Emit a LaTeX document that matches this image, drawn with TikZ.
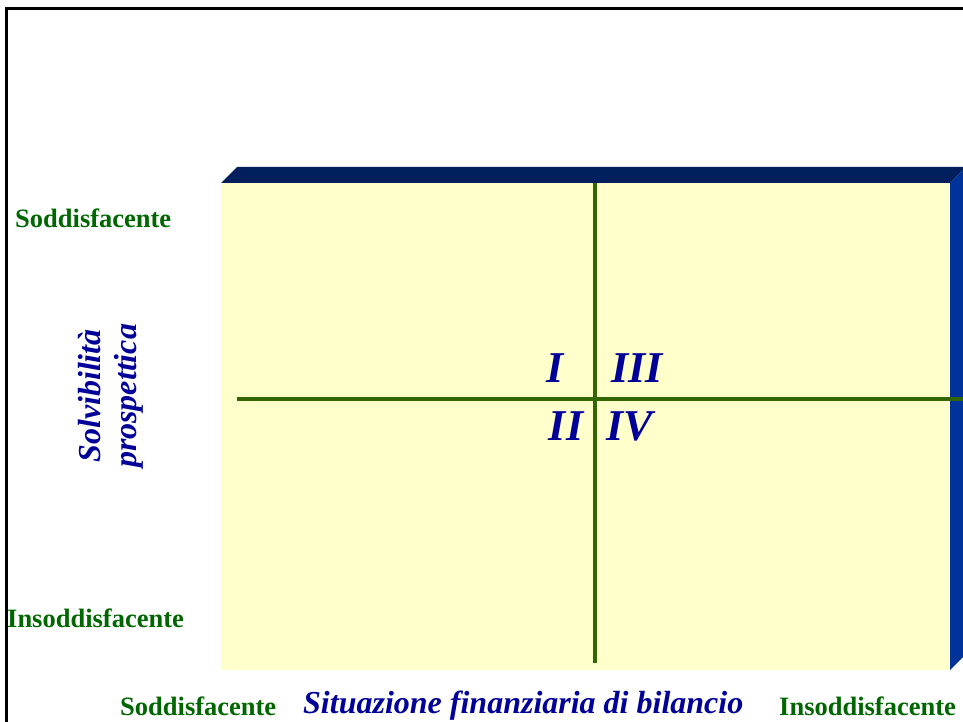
\documentclass[tikz,border=0pt]{standalone}
\usepackage{fontspec}
\setmainfont{Liberation Serif}
\usepackage{xcolor}
\usepackage{tikz}
\usetikzlibrary{positioning, calc}

\definecolor{paneyellow}{HTML}{FFFFCC}
\definecolor{topnavy}{HTML}{001F5C}
\definecolor{sideblue}{HTML}{003399}
\definecolor{gridgreen}{HTML}{336600}
\definecolor{rategreen}{HTML}{006600}
\definecolor{titleblue}{HTML}{000099}

\begin{document}
\begin{tikzpicture}[
    x=1pt, y=-1pt,
    every node/.style={inner sep=0pt},
    ratelbl/.style={anchor=base west, text=rategreen, font=\fontsize{26.5}{30}\selectfont\bfseries},
    axislbl/.style={text=titleblue, font=\fontsize{32}{36}\selectfont\bfseries\itshape},
    quadlbl/.style={anchor=base, text=titleblue, font=\fontsize{44}{48}\selectfont\bfseries\itshape},
    gridline/.style={draw=gridgreen, line width=4pt},
  ]
  \useasboundingbox (0,0) rectangle (963,722);
  \clip (0,0) rectangle (963,722);

  % ---- Frame ----
  \draw[line width=3pt] (6,740) -- (6,9) -- (980,9);

  % ---- Box (front face + depth) ----
  \fill[topnavy] (221,183) -- (237,167) -- (966,167) -- (950,183) -- cycle;
  \fill[sideblue] (950,183) -- (966,167) -- (966,654) -- (950,670) -- cycle;
  \fill[paneyellow] (221,183) rectangle (950,670);

  % ---- Quadrant lines ----
  \coordinate (vtop) at (595,183);
  \coordinate (vbot) at (595,663);
  \coordinate (hleft) at (237,399);
  \coordinate (hright) at (966,399);
  \draw[gridline] (vtop) -- (vbot);
  \draw[gridline] (hleft) -- (hright);

  % ---- Quadrant numbers ----
  \node[quadlbl] (q1) at (555,382) {I};
  \node[quadlbl] (q3) at (637,382) {III};
  \node[quadlbl] (q2) at (566,440) {II};
  \node[quadlbl] (q4) at (630,440) {IV};

  % ---- Axis titles ----
  \node[axislbl, rotate=90, align=center] (ytitle) at (111,396) {Solvibilità\\prospettica};
  \node[axislbl, anchor=base west] (xtitle) at (303,713) {Situazione finanziaria di bilancio};

  % ---- Scale ends ----
  \node[ratelbl] (ytop) at (15,227) {Soddisfacente};
  \node[ratelbl] (ybot) at (7,627) {Insoddisfacente};
  \node[ratelbl] (xleft) at (120,715) {Soddisfacente};
  \node[ratelbl] (xright) at (779,715) {Insoddisfacente};

\end{tikzpicture}
\end{document}
